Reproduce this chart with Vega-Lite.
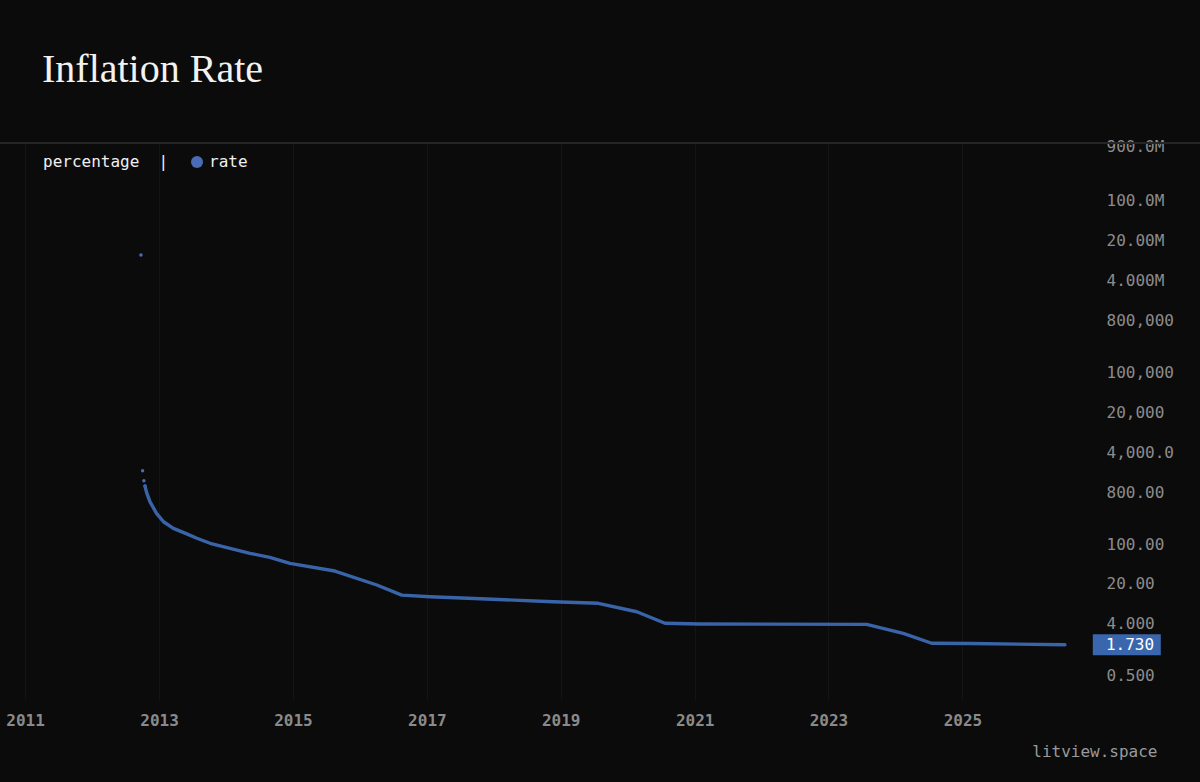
{
  "$schema": "https://vega.github.io/schema/vega-lite/v6.json",
  "width": 1200,
  "height": 557,
  "autosize": "none",
  "padding": {"left": 0, "top": 143, "right": 0, "bottom": 82},
  "background": "#0b0b0b",
  "title": {
    "text": "Inflation Rate",
    "anchor": "start",
    "frame": "group",
    "dx": 42,
    "offset": 16,
    "font": "Liberation Serif",
    "fontSize": 40,
    "fontWeight": "normal",
    "color": "#f2f2f2",
    "baseline": "alphabetic"
  },
  "config": {
    "view": {"stroke": null},
    "font": "DejaVu Sans Mono",
    "axisY": {
      "domain": false,
      "ticks": false,
      "grid": false,
      "labelPadding": 6,
      "labelAlign": "left",
      "labelBaseline": "middle",
      "labelFont": "DejaVu Sans Mono",
      "labelFontSize": 16,
      "labelColor": "#8c8c8c",
      "labelOverlap": false,
      "labelFlush": false,
      "labelBound": false
    }
  },
  "data": {
    "values": [
      {"date": "2012-09-24", "rate": 11300000},
      {"date": "2012-10-03", "rate": 1910},
      {"date": "2012-10-10", "rate": 1280},
      {"date": "2012-10-16", "rate": 1030},
      {"date": "2012-10-25", "rate": 790},
      {"date": "2012-11-12", "rate": 549},
      {"date": "2012-12-18", "rate": 344},
      {"date": "2013-01-25", "rate": 245},
      {"date": "2013-03-20", "rate": 188},
      {"date": "2013-06-01", "rate": 150},
      {"date": "2013-07-26", "rate": 126},
      {"date": "2013-10-06", "rate": 103},
      {"date": "2014-01-23", "rate": 84.1},
      {"date": "2014-05-12", "rate": 68.8},
      {"date": "2014-08-28", "rate": 58.5},
      {"date": "2014-12-16", "rate": 46.0},
      {"date": "2015-08-18", "rate": 33.7},
      {"date": "2016-04-03", "rate": 19.2},
      {"date": "2016-08-17", "rate": 12.8},
      {"date": "2017-01-18", "rate": 12.0},
      {"date": "2017-11-23", "rate": 10.9},
      {"date": "2018-11-20", "rate": 9.8},
      {"date": "2019-07-25", "rate": 9.19},
      {"date": "2020-02-20", "rate": 6.55},
      {"date": "2020-07-23", "rate": 4.11},
      {"date": "2021-01-30", "rate": 4.0},
      {"date": "2023-07-28", "rate": 3.93},
      {"date": "2024-02-13", "rate": 2.75},
      {"date": "2024-07-17", "rate": 1.84},
      {"date": "2025-02-12", "rate": 1.82},
      {"date": "2026-07-14", "rate": 1.73}
    ]
  },
  "layer": [
    {
      "mark": {"type": "rule", "color": "#262626", "strokeWidth": 1},
      "encoding": {
        "y": {
          "datum": 1024500000,
          "type": "quantitative",
          "scale": {"type": "log", "domain": [0.1875, 1024500000], "nice": false},
          "axis": {
            "orient": "right",
            "offset": -100,
            "title": null,
            "values": [0.5, 4, 20, 100, 800, 4000, 20000, 100000, 800000, 4000000, 20000000, 100000000, 900000000],
            "labelExpr": "datum.value == 900000000 ? '900.0M' : datum.value == 100000000 ? '100.0M' : datum.value == 20000000 ? '20.00M' : datum.value == 4000000 ? '4.000M' : datum.value == 800000 ? '800,000' : datum.value == 100000 ? '100,000' : datum.value == 20000 ? '20,000' : datum.value == 4000 ? '4,000.0' : datum.value == 800 ? '800.00' : datum.value == 100 ? '100.00' : datum.value == 20 ? '20.00' : datum.value == 4 ? '4.000' : '0.500'"
          }
        }
      }
    },
    {
      "encoding": {
        "x": {
          "field": "date",
          "type": "temporal",
          "scale": {
            "type": "utc",
            "domain": [
              {"year": 2010, "month": 8, "date": 17, "utc": true},
              {"year": 2028, "month": 7, "date": 20, "utc": true}
            ],
            "nice": false
          },
          "axis": {
            "orient": "bottom",
            "values": [
              {"year": 2011, "utc": true},
              {"year": 2013, "utc": true},
              {"year": 2015, "utc": true},
              {"year": 2017, "utc": true},
              {"year": 2019, "utc": true},
              {"year": 2021, "utc": true},
              {"year": 2023, "utc": true},
              {"year": 2025, "utc": true}
            ],
            "format": "%Y",
            "formatType": "utc",
            "domain": false,
            "ticks": false,
            "grid": true,
            "gridColor": "#141414",
            "gridWidth": 1,
            "labelFont": "DejaVu Sans Mono",
            "labelFontWeight": "bold",
            "labelFontSize": 16,
            "labelColor": "#8a8a8a",
            "labelPadding": 20,
            "labelBaseline": "middle",
            "labelFlush": false,
            "labelOverlap": false,
            "title": "litview.space",
            "titleFont": "DejaVu Sans Mono",
            "titleFontSize": 16,
            "titleFontWeight": "normal",
            "titleColor": "#9a9a9a",
            "titleAlign": "right",
            "titleAnchor": "end",
            "titleX": 1157,
            "titleY": 51,
            "titleBaseline": "middle"
          }
        },
        "y": {
          "field": "rate",
          "type": "quantitative",
          "scale": {"type": "log", "domain": [0.1875, 1024500000], "nice": false},
          "axis": {
            "orient": "right",
            "offset": -100,
            "title": null,
            "values": [0.5, 4, 20, 100, 800, 4000, 20000, 100000, 800000, 4000000, 20000000, 100000000, 900000000],
            "labelExpr": "datum.value == 900000000 ? '900.0M' : datum.value == 100000000 ? '100.0M' : datum.value == 20000000 ? '20.00M' : datum.value == 4000000 ? '4.000M' : datum.value == 800000 ? '800,000' : datum.value == 100000 ? '100,000' : datum.value == 20000 ? '20,000' : datum.value == 4000 ? '4,000.0' : datum.value == 800 ? '800.00' : datum.value == 100 ? '100.00' : datum.value == 20 ? '20.00' : datum.value == 4 ? '4.000' : '0.500'"
          }
        }
      },
      "layer": [
        {
          "transform": [{"filter": "datum.rate >= 1000"}],
          "mark": {"type": "circle", "size": 12, "opacity": 1},
          "encoding": {
            "color": {
              "datum": "rate",
              "scale": {"range": ["#4a6bb5"]},
              "legend": {
                "orient": "none",
                "legendX": 43,
                "legendY": 11,
                "direction": "horizontal",
                "title": "percentage\u00a0\u00a0|",
                "titleOrient": "left",
                "titleFont": "DejaVu Sans Mono",
                "titleFontSize": 16,
                "titleFontWeight": "normal",
                "titleColor": "#f0f0f0",
                "titlePadding": 20,
                "labelFont": "DejaVu Sans Mono",
                "labelFontSize": 16,
                "labelColor": "#f0f0f0",
                "labelOffset": 4,
                "symbolType": "circle",
                "symbolSize": 144,
                "symbolStrokeWidth": 0,
                "symbolOpacity": 1,
                "symbolFillColor": "#3d6bb5",
                "padding": 0
              }
            }
          }
        },
        {
          "transform": [{"filter": "datum.rate <= 1030"}],
          "mark": {"type": "line", "color": "#3a64aa", "strokeWidth": 3.4, "strokeCap": "round", "strokeJoin": "round"}
        },
        {
          "transform": [{"filter": "datum.rate < 1.75"}],
          "mark": {
            "type": "point",
            "shape": "M0.82,-0.31L2.82,-0.31L2.82,0.31L0.82,0.31Z",
            "size": 4624,
            "filled": true,
            "color": "#3a66ad",
            "opacity": 1,
            "strokeWidth": 0
          }
        },
        {
          "transform": [{"filter": "datum.rate < 1.75"}],
          "mark": {
            "type": "text",
            "align": "left",
            "baseline": "middle",
            "dx": 41,
            "font": "DejaVu Sans Mono",
            "fontSize": 16,
            "color": "#ffffff"
          },
          "encoding": {"text": {"field": "rate", "format": ".3f"}}
        }
      ]
    }
  ]
}
